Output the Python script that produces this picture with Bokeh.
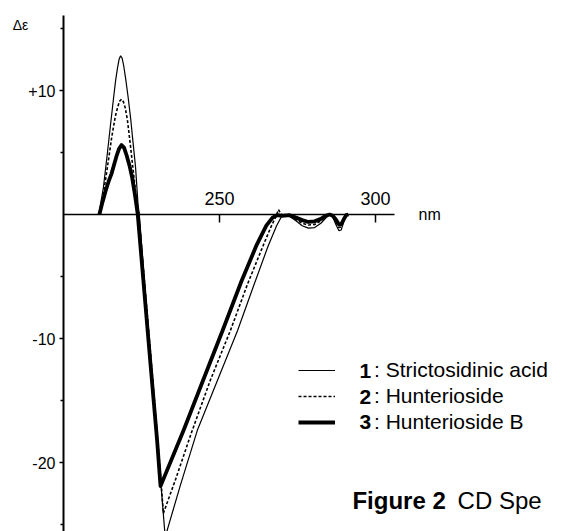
from bokeh.plotting import figure
from bokeh.models import (Range1d, LinearAxis, FixedTicker, Label, Legend, LegendItem)
from bokeh.embed import file_html
from bokeh.resources import INLINE

# ---- data (wavelength nm, delta epsilon) ----
wl1 = [211.3, 212.8, 214.0, 215.1, 216.0, 216.7, 217.3, 217.8, 218.3, 218.8, 219.3, 219.9, 220.7,
       221.5, 222.3, 223.1, 223.9, 224.3, 226.0, 228.0, 230.0, 231.5, 232.6,
       237.5, 242.9, 249.3, 255.8, 261.0, 265.5, 268.3, 269.8, 270.8,
       272.5, 274.5, 276.5, 278.5, 280.5, 282.5, 284.0, 285.3, 286.3, 287.3,
       288.3, 289.0, 289.8, 290.6, 291.3]
de1 = [0.0, 2.2, 4.8, 7.3, 9.3, 10.8, 11.8, 12.5, 12.8, 12.6, 12.0, 11.0, 9.5,
       7.8, 5.8, 3.8, 0.8, 0.0, -5.6, -11.6, -17.8, -22.6, -26.0,
       -21.8, -17.4, -13.4, -9.35, -5.7, -2.6, -0.9, -0.2, 0.0,
       -0.15, -0.5, -0.9, -1.1, -1.05, -0.7, -0.3, 0.0, -0.2, -0.8,
       -1.3, -1.25, -0.6, -0.1, 0.0]

wl2 = [211.5, 213.0, 214.3, 215.5, 216.6, 217.4, 218.0, 218.6, 219.2, 219.8, 220.5, 221.4,
       222.4, 223.3, 224.1, 226.0, 228.0, 230.0, 231.4, 232.0,
       236.0, 241.0, 247.0, 253.5, 259.0, 264.0, 266.5, 268.2, 268.9, 269.6, 270.5,
       272.5, 274.5, 276.5, 278.5, 280.5, 282.5, 284.0, 285.3, 286.3, 287.3,
       288.3, 289.0, 289.8, 290.6, 291.3]
de2 = [0.0, 2.0, 4.2, 6.3, 7.9, 8.7, 9.15, 9.3, 9.1, 8.6, 7.6, 5.7,
       3.4, 1.4, 0.0, -5.6, -11.5, -17.6, -22.0, -24.1,
       -21.3, -17.6, -13.4, -9.35, -5.6, -2.5, -1.0, -0.1, 0.4, 0.1, -0.1,
       -0.1, -0.4, -0.7, -0.85, -0.8, -0.5, -0.2, 0.0, -0.15, -0.6,
       -1.05, -1.0, -0.5, -0.1, 0.0]

wl3 = [211.5, 212.5, 213.5, 214.5, 215.4, 216.3, 217.1, 217.8, 218.6, 219.4, 220.2,
       221.1, 222.0, 222.9, 223.8, 226.0, 228.0, 230.0, 231.1,
       238.5, 245.0, 251.0, 257.0, 262.0, 265.0, 267.0, 268.5, 270.0,
       272.5, 274.5, 276.5, 278.5, 280.5, 282.5, 284.0, 285.3, 286.3, 287.3,
       288.3, 289.0, 289.8, 290.6, 291.3]
de3 = [0.0, 1.0, 1.9, 2.7, 3.3, 4.1, 4.8, 5.3, 5.6, 5.4, 4.8,
       4.0, 3.0, 1.6, 0.0, -6.5, -12.4, -18.2, -21.9,
       -17.4, -13.2, -9.35, -5.4, -2.4, -0.9, -0.25, -0.05, -0.1,
       -0.05, -0.25, -0.45, -0.6, -0.55, -0.35, -0.1, 0.0, -0.1, -0.4,
       -0.8, -0.8, -0.4, -0.05, 0.0]

numbers = ["1", "2", "3"]
names = [": Strictosidinic acid", ": Hunterioside", ": Hunterioside B"]
x_ticks = [250, 300]
y_ticks = [-20, -10, 10]
y_minor = [-25, -15, -5, 5, 15]
y_tick_labels = {10: "+10", -10: "-10", -20: "-20"}

FONT = "Liberation Sans"

p = figure(width=567, height=531, output_backend="svg", toolbar_location=None,
           x_range=Range1d(179.81, 361.54), y_range=Range1d(-25.56, 17.26),
           x_axis_type=None, y_axis_type=None, min_border=0)
p.min_border_left = p.min_border_right = p.min_border_top = p.min_border_bottom = 0
p.outline_line_color = None
p.background_fill_color = "white"
p.border_fill_color = "white"
p.title.visible = False

# axes crossing at (200 nm, 0)
xa = LinearAxis(fixed_location=0, bounds=(200, 306),
                ticker=FixedTicker(ticks=x_ticks, minor_ticks=[]))
xa.axis_line_width = 1.6
xa.axis_line_color = "black"
xa.major_tick_out = 0
xa.major_tick_in = 8
xa.major_tick_line_width = 1.5
xa.minor_tick_out = 0
xa.minor_tick_in = 0
xa.major_label_standoff = 10
xa.major_label_text_font = FONT
xa.major_label_text_font_size = "18px"
xa.major_label_text_color = "black"
p.add_layout(xa, "above")

ya = LinearAxis(fixed_location=200, bounds=(-26, 16.05),
                ticker=FixedTicker(ticks=y_ticks, minor_ticks=y_minor))
ya.axis_line_width = 2
ya.axis_line_color = "black"
ya.major_tick_out = 4
ya.major_tick_in = 0
ya.minor_tick_out = 3
ya.minor_tick_in = 0
ya.major_tick_line_width = 1.5
ya.minor_tick_line_width = 1.5
ya.major_label_standoff = 4
ya.major_label_overrides = y_tick_labels
ya.major_label_text_font = FONT
ya.major_label_text_font_size = "16px"
ya.major_label_text_color = "black"
p.add_layout(ya, "left")

r1 = p.line(wl1, de1, line_color="black", line_width=1.2)
r2 = p.line(wl2, de2, line_color="black", line_width=1.6, line_dash="3 2")
r3 = p.line(wl3, de3, line_color="black", line_width=3.8, line_join="round")

legend = Legend(items=[LegendItem(label=n, renderers=[r]) for n, r in zip(names, [r1, r2, r3])],
                location=(298, 96), orientation="vertical")
legend.padding = 0
legend.margin = 0
legend.spacing = 0
legend.border_line_color = None
legend.background_fill_alpha = 0
legend.glyph_width = 37
legend.glyph_height = 26
legend.label_height = 26
legend.label_standoff = 39
legend.label_text_font = FONT
legend.label_text_font_size = "21px"
legend.label_text_color = "black"
p.add_layout(legend, "center")

# bold numerals of the legend entries
for num, yv in zip(numbers, [-12.58, -14.68, -16.77]):
    p.add_layout(Label(x=294.87, y=yv, text=num, text_font=FONT, text_font_size="21px",
                       text_font_style="bold", text_baseline="middle", text_align="left",
                       text_color="black"))

p.add_layout(Label(x=183.7, y=15.3, text="Δε", text_font=FONT, text_font_size="14px",
                   text_baseline="middle", text_align="left", text_color="black"))
p.add_layout(Label(x=313.8, y=0, text="nm", text_font=FONT, text_font_size="16px",
                   text_baseline="middle", text_align="left", text_color="black"))
p.add_layout(Label(x=292.6, y=-23.06, text="Figure 2", text_font=FONT, text_font_size="24px",
                   text_font_style="bold", text_baseline="middle", text_align="left",
                   text_color="black"))
p.add_layout(Label(x=326.3, y=-23.06, text="CD Spe", text_font=FONT, text_font_size="24px",
                   text_baseline="middle", text_align="left", text_color="black"))

open("out.html", "w").write(file_html(p, INLINE))
